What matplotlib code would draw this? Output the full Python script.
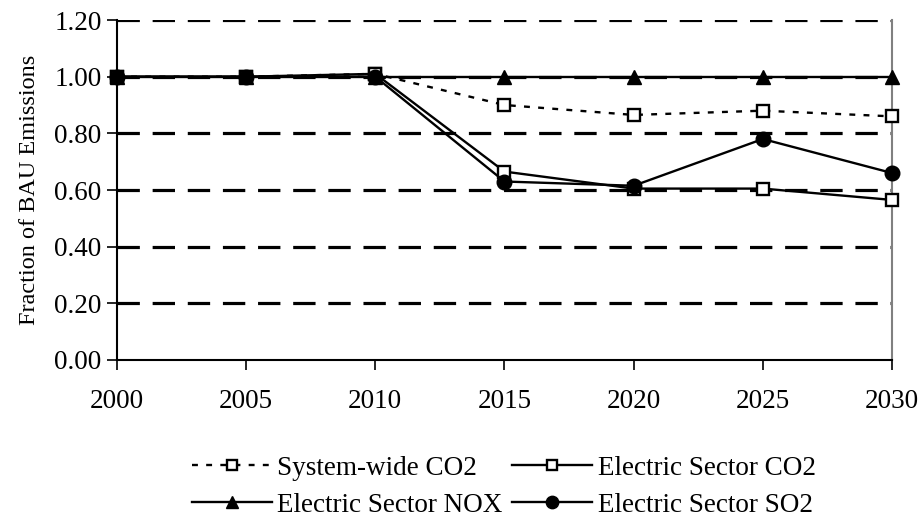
import matplotlib.pyplot as plt
import numpy as np

years = [2000, 2005, 2010, 2015, 2020, 2025, 2030]
system_co2 = [1.00, 1.00, 1.01, 0.90, 0.865, 0.88, 0.86]
elec_co2 = [1.00, 1.00, 1.01, 0.665, 0.605, 0.605, 0.565]
elec_nox = [1.00, 1.00, 1.00, 1.00, 1.00, 1.00, 1.00]
elec_so2 = [1.00, 1.00, 1.00, 0.63, 0.615, 0.78, 0.66]
yticks = [0.0, 0.2, 0.4, 0.6, 0.8, 1.0, 1.2]

plt.rcParams['font.family'] = ['Liberation Serif', 'DejaVu Serif']

fig = plt.figure(figsize=(9.21, 5.19), dpi=100)
ax = fig.add_axes([0.127, 0.3064, 0.8415, 0.655])

# horizontal dashed gridlines
for yv in yticks[1:]:
    ax.axhline(yv, color='black', lw=2.3, linestyle=(0, (7, 4)), zorder=1)

l1, = ax.plot(years, system_co2, color='black', lw=1.7, linestyle=(0, (2.5, 3.5)),
              marker='s', ms=9, mfc='white', mec='black', mew=1.7, clip_on=False, zorder=3,
              label='System-wide CO2')
l2, = ax.plot(years, elec_co2, color='black', lw=1.7, linestyle='-',
              marker='s', ms=9, mfc='white', mec='black', mew=1.7, clip_on=False, zorder=3,
              label='Electric Sector CO2')
l3, = ax.plot(years, elec_nox, color='black', lw=1.7, linestyle='-',
              marker='^', ms=10, mfc='black', mec='black', clip_on=False, zorder=3,
              label='Electric Sector NOX')
l4, = ax.plot(years, elec_so2, color='black', lw=1.7, linestyle='-',
              marker='o', ms=10.5, mfc='black', mec='black', clip_on=False, zorder=4,
              label='Electric Sector SO2')

ax.set_xlim(2000, 2030)
ax.set_ylim(0, 1.2)
ax.set_xticks(years)
ax.set_yticks(yticks)
ax.set_yticklabels([f'{v:.2f}' for v in yticks])
ax.tick_params(axis='both', labelsize=19.5, length=7, width=1.2, direction='out', color='black')
ax.tick_params(axis='x', pad=14)
ax.tick_params(axis='y', pad=4)

ax.spines['top'].set_visible(False)
ax.spines['right'].set_color('#808080')
ax.spines['right'].set_linewidth(1.5)
ax.spines['left'].set_linewidth(1.5)
ax.spines['bottom'].set_linewidth(1.5)

ax.set_ylabel('Fraction of BAU Emissions', fontsize=17.5, labelpad=10)

fig.legend(handles=[l1, l3, l2, l4], ncol=2, loc='center', bbox_to_anchor=(0.547, 0.062),
           frameon=False, fontsize=19.5, handlelength=2.95, handletextpad=0.2,
           columnspacing=0.35, labelspacing=0.45, markerscale=0.85)

plt.savefig('out.png', dpi=100)
